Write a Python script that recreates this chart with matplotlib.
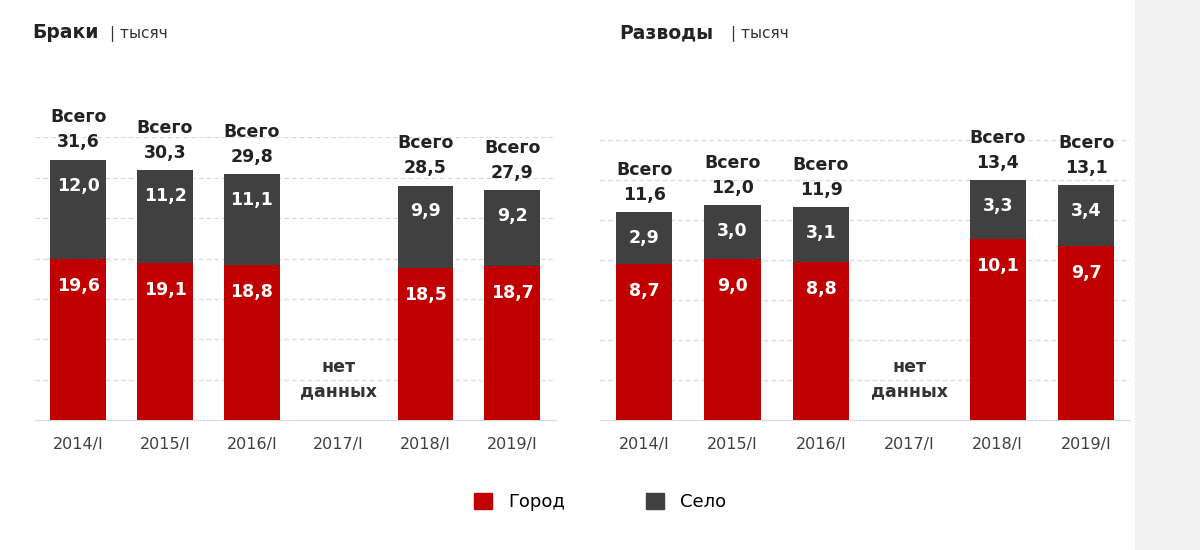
import matplotlib
matplotlib.use("Agg")
import matplotlib.pyplot as plt
import numpy as np
from matplotlib.patches import Patch

categories = ["2014/I", "2015/I", "2016/I", "2017/I", "2018/I", "2019/I"]
marr_city = [19.6, 19.1, 18.8, None, 18.5, 18.7]
marr_rural = [12.0, 11.2, 11.1, None, 9.9, 9.2]
marr_total = [31.6, 30.3, 29.8, None, 28.5, 27.9]
div_city = [8.7, 9.0, 8.8, None, 10.1, 9.7]
div_rural = [2.9, 3.0, 3.1, None, 3.3, 3.4]
div_total = [11.6, 12.0, 11.9, None, 13.4, 13.1]

RED = "#C00000"
GRAY = "#404040"

fig = plt.figure(figsize=(12, 5.5), dpi=100)
fig.patches.append(plt.Rectangle((0.946, 0), 0.054, 1, transform=fig.transFigure, color="#f2f2f2", zorder=-1))

def fmt(v):
    return f"{v:.1f}".replace(".", ",")

def panel(rect, city, rural, total, ymax, step, nodata_y):
    ax = fig.add_axes(rect)
    px = ymax / 330.0
    x = np.arange(len(categories))
    for i in x:
        if city[i] is None:
            ax.text(i, nodata_y, "нет\nданных", ha="center", va="center", fontsize=12.5,
                    fontweight="bold", color="#333333", linespacing=1.4)
            continue
        ax.bar(i, city[i], width=0.64, color=RED, zorder=3)
        ax.bar(i, rural[i], bottom=city[i], width=0.64, color=GRAY, zorder=3)
        ax.text(i, city[i] - 27 * px, fmt(city[i]), ha="center", va="center",
                color="white", fontsize=12.5, fontweight="bold", zorder=4)
        ax.text(i, total[i] - 26 * px, fmt(rural[i]), ha="center", va="center",
                color="white", fontsize=12.5, fontweight="bold", zorder=4)
        ax.text(i, total[i] + 8 * px, "Всего\n" + fmt(total[i]), ha="center", va="bottom",
                color="#222222", fontsize=12.5, fontweight="bold", linespacing=1.5)
    ax.set_xlim(-0.5, len(categories) - 0.5)
    ax.set_ylim(0, ymax)
    ax.set_yticks(np.arange(step, ymax * 0.92, step))
    ax.yaxis.grid(True, color="#d9d9d9", lw=0.8, linestyle=(0, (4, 3)), zorder=0)
    ax.tick_params(axis="y", left=False, labelleft=False)
    ax.set_xticks(x)
    ax.set_xticklabels(categories, fontsize=11.5, color="#404040")
    ax.tick_params(axis="x", length=0, pad=12)
    for s in ["top", "right", "left"]:
        ax.spines[s].set_visible(False)
    ax.spines["bottom"].set_color("#d9d9d9")
    return ax

panel([0.029, 0.236, 0.434, 0.6], marr_city, marr_rural, marr_total, 40, 4.9, 5.0)
panel([0.5, 0.236, 0.442, 0.6], div_city, div_rural, div_total, 18.4, 2.23, 2.3)

fig.text(0.027, 0.93, "Браки", fontsize=13.5, fontweight="bold", color="#222222")
fig.text(0.092, 0.93, "| тысяч", fontsize=11, color="#333333")
fig.text(0.516, 0.93, "Разводы", fontsize=13.5, fontweight="bold", color="#222222")
fig.text(0.609, 0.93, "| тысяч", fontsize=11, color="#333333")

fig.legend(handles=[Patch(color=RED, label="Город"), Patch(color=GRAY, label="Село")],
           loc="center", bbox_to_anchor=(0.5, 0.087), ncol=2, frameon=False, fontsize=13,
           handlelength=1.0, handleheight=1.0, columnspacing=4.5, handletextpad=0.9)

fig.savefig("out.png", dpi=100, facecolor="white")
